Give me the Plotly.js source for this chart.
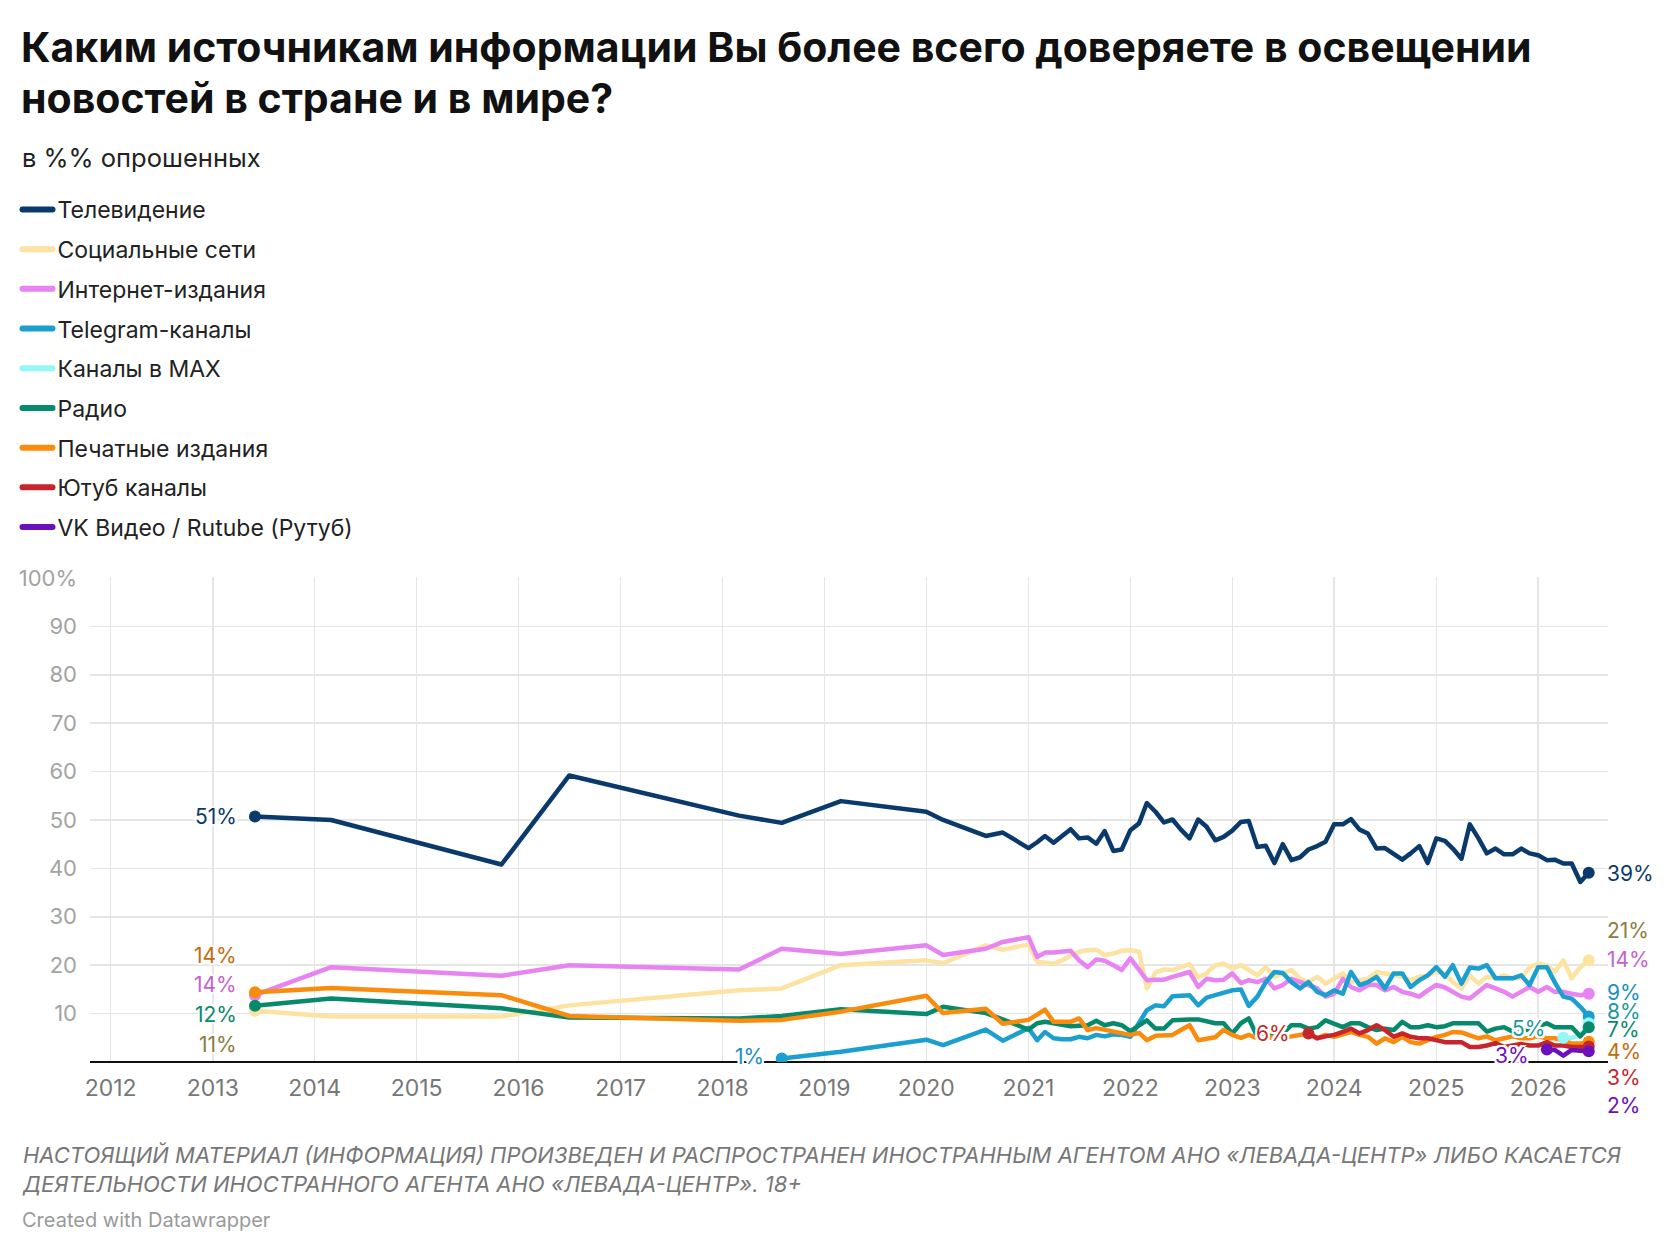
<!DOCTYPE html>
<html>
<head>
<meta charset="utf-8">
<script src="https://cdn.plot.ly/plotly-3.0.1.min.js"></script>
<style>
    html, body { margin: 0; padding: 0; background: #fff; }
    #chart { width: 1672px; height: 1256px; }
    .scatterlayer .js-line { stroke-linejoin: round; stroke-linecap: round; }
    .legendlines path { stroke-width: 6px !important; stroke-linecap: round; }
</style>
</head>
<body>
<div id="chart"></div>
<script>
// Survey dates. Every series ends at the last survey, so a shorter series
// lines up with the tail of this list.
const surveyDates = [
    '2013-06', '2014-03', '2015-11', '2016-07', '2018-03', '2018-08',
    '2019-03', '2020-01', '2020-03', '2020-08', '2020-10',
    '2021-01', '2021-02', '2021-03', '2021-04', '2021-05', '2021-06',
    '2021-07', '2021-08', '2021-09', '2021-10', '2021-11', '2021-12',
    '2022-01', '2022-02', '2022-03', '2022-04', '2022-05', '2022-06',
    '2022-07', '2022-08', '2022-09', '2022-10', '2022-11', '2022-12',
    '2023-01', '2023-02', '2023-03', '2023-04', '2023-05', '2023-06',
    '2023-07', '2023-08', '2023-09', '2023-10', '2023-11', '2023-12',
    '2024-01', '2024-02', '2024-03', '2024-04', '2024-05', '2024-06',
    '2024-07', '2024-08', '2024-09', '2024-10', '2024-11', '2024-12',
    '2025-01', '2025-02', '2025-03', '2025-04', '2025-05', '2025-06',
    '2025-07', '2025-08', '2025-09', '2025-10', '2025-11', '2025-12',
    '2026-01', '2026-02', '2026-03', '2026-04', '2026-05', '2026-06',
    '2026-07'
];

// % of respondents
const television = [
    50.7, 50.0, 40.8, 59.2, 50.9, 49.4, 53.9, 51.7, 50.0, 46.7, 47.4,
    44.2, 45.4, 46.7, 45.3, 46.7, 48.1, 46.2, 46.4, 45.1, 47.7, 43.6, 43.9,
    47.9, 49.3, 53.5, 51.7, 49.5, 50.1, 48.0, 46.2, 50.1, 48.6, 45.8, 46.5,
    47.8, 49.6, 49.8, 44.4, 44.7, 41.1, 45.0, 41.7, 42.3, 43.9, 44.6, 45.5,
    49.1, 49.1, 50.2, 48.0, 47.2, 44.1, 44.2, 43.1, 41.8, 43.1, 44.6, 41.1,
    46.2, 45.7, 44.1, 42.0, 49.1, 46.2, 43.1, 44.1, 42.9, 42.9, 44.1, 43.1,
    42.7, 41.7, 41.8, 41.0, 41.0, 37.2, 39.1
];
const socialNetworks = [
    10.6, 9.4, 9.4, 11.7, 14.8, 15.2, 20.0, 21.0, 20.4, 24.1, 23.2,
    24.3, 20.7, 20.5, 20.3, 21.0, 22.0, 22.8, 23.1, 23.2, 22.1, 22.4, 23.0,
    23.1, 22.8, 15.2, 18.5, 19.1, 19.0, 19.5, 20.2, 17.5, 18.3, 20.0, 20.3,
    19.3, 20.0, 19.0, 17.9, 19.6, 17.6, 18.3, 19.0, 17.2, 16.5, 17.6, 16.2,
    17.2, 18.3, 16.5, 16.9, 17.2, 18.6, 18.3, 18.0, 17.6, 16.9, 17.6, 17.9,
    18.6, 18.3, 16.5, 15.2, 17.9, 16.2, 17.6, 17.3, 17.9, 17.3, 17.3, 19.6,
    20.3, 20.0, 18.6, 21.0, 17.3, 19.6, 21.0
];
const internetMedia = [
    13.8, 19.6, 17.8, 20.0, 19.1, 23.4, 22.3, 24.1, 22.1, 23.4, 24.8,
    25.8, 21.7, 22.6, 22.6, 22.8, 23.0, 21.0, 19.6, 21.2, 20.9, 20.0, 19.0,
    21.4, 19.1, 16.9, 17.0, 17.0, 17.6, 18.1, 18.6, 15.5, 17.2, 16.9, 17.0,
    18.3, 16.3, 16.9, 16.5, 17.2, 15.2, 15.9, 17.2, 16.5, 15.9, 15.2, 13.5,
    14.1, 17.2, 15.5, 14.8, 15.9, 15.9, 14.8, 15.5, 14.5, 14.1, 13.5, 14.8,
    15.9, 15.4, 14.5, 13.5, 13.1, 14.5, 15.9, 15.2, 14.5, 13.5, 14.5, 15.5,
    14.5, 15.5, 14.5, 14.5, 14.1, 13.8, 14.1
];
const telegram = [
    0.7, 2.1, 4.6, 3.5, 6.7, 4.4,
    7.0, 4.5, 6.2, 4.9, 4.7, 4.7, 5.2, 4.9, 5.6, 5.3, 5.7, 5.6,
    5.2, 8.0, 10.7, 11.7, 11.5, 13.6, 13.8, 13.8, 11.7, 13.3, 13.8, 14.3,
    14.8, 15.0, 11.6, 13.5, 16.5, 18.6, 18.4, 16.5, 15.2, 16.5, 14.5, 13.8,
    14.8, 14.1, 18.6, 15.9, 16.5, 17.6, 15.2, 18.3, 18.3, 15.5, 16.9, 17.9,
    19.6, 17.6, 20.0, 16.2, 19.5, 19.3, 20.0, 17.3, 17.3, 17.3, 17.9, 15.9,
    19.6, 19.6, 16.5, 13.5, 13.1, 11.4, 9.4
];
const maxChannels = [5.0, 5.0, 5.5, 8.0];
const radio = [
    11.6, 13.1, 11.1, 9.2, 9.0, 9.5, 10.9, 9.9, 11.4, 10.1, 8.8,
    6.7, 8.0, 8.3, 8.0, 7.6, 7.4, 7.5, 7.6, 8.5, 7.6, 8.0, 7.6,
    6.4, 7.6, 8.6, 6.9, 6.9, 8.6, 8.8, 8.8, 8.8, 8.5, 8.0, 8.0,
    5.9, 8.0, 9.0, 5.2, 6.0, 5.5, 5.9, 7.6, 7.6, 6.9, 7.2, 8.6,
    8.0, 7.2, 8.0, 8.0, 7.2, 6.6, 6.9, 6.6, 8.3, 7.2, 7.2, 7.6,
    7.2, 7.4, 8.0, 8.0, 8.0, 8.0, 6.3, 6.9, 7.2, 6.3, 6.3, 6.9,
    7.6, 8.0, 7.2, 7.2, 7.2, 5.3, 7.2
];
const printMedia = [
    14.4, 15.3, 13.8, 9.5, 8.5, 8.7, 10.4, 13.7, 10.1, 11.0, 7.9,
    8.7, 9.8, 10.8, 8.3, 8.3, 8.3, 9.0, 6.6, 7.0, 6.6, 6.2, 5.9,
    5.6, 6.0, 4.5, 5.4, 5.6, 5.6, 6.6, 7.6, 4.5, 4.9, 5.1, 6.6,
    5.6, 5.0, 5.6, 4.9, 4.9, 5.2, 4.9, 5.3, 5.6, 5.9, 4.9, 5.6,
    5.2, 5.6, 6.2, 5.6, 5.2, 3.8, 4.9, 4.1, 5.2, 4.1, 3.8, 4.5,
    5.2, 5.6, 6.2, 6.1, 5.4, 4.9, 5.3, 4.5, 4.9, 5.3, 4.9, 4.9,
    5.3, 4.9, 4.9, 4.5, 3.8, 3.8, 4.2
];
const youtube = [
    5.9, 4.9, 5.3,
    5.6, 6.2, 6.9, 5.9, 6.6, 7.6, 6.6, 5.2, 5.9, 5.2, 4.9, 4.9,
    4.5, 4.1, 4.1, 4.1, 3.1, 3.1, 3.4, 3.9, 3.1, 3.4, 3.7, 3.4,
    3.4, 4.1, 3.4, 3.4, 3.1, 3.1, 3.2
];
const vkRutube = [2.6, 2.5, 1.3, 2.5, 2.3, 2.2];

const seriesNames = [
    'Телевидение', 'Социальные сети', 'Интернет-издания', 'Telegram-каналы',
    'Каналы в MAX', 'Радио', 'Печатные издания', 'Ютуб каналы',
    'VK Видео / Rutube (Рутуб)'
];
const seriesValues = [
    television, socialNetworks, internetMedia, telegram,
    maxChannels, radio, printMedia, youtube, vkRutube
];

const yTicks = [10, 20, 30, 40, 50, 60, 70, 80, 90, 100];
const yTickText = ['10', '20', '30', '40', '50', '60', '70', '80', '90', '100%'];

(function () {
    'use strict';

    const FONT = 'Inter, Roboto, "Noto Sans", sans-serif';
    const W = 1672, H = 1256;
    const M = { l: 90, r: 64, t: 577, b: 194, autoexpand: false };
    const Y_MAX = 100.2;

    const LINE_COLORS = ['#0a3a6b', '#fde3a1', '#e784f1', '#1b9fcf', '#95f6f6',
                         '#078a6c', '#f98c0d', '#c6262b', '#6c10be'];
    const LABEL_COLORS = ['#0a3a6b', '#8d7c40', '#c463d0', '#1b8fbf', '#21999b',
                          '#0a8a6c', '#c46b0b', '#c6262b', '#6c10be'];

    // where the start / end value labels sit (in y units), moved apart so they don't collide
    const START_LABEL_Y = [50.7, 3.7, 16.0, 1.1, 6.9, 9.8, 22.1, 5.9, 1.4];
    const END_LABEL_Y = [38.9, 27.2, 21.2, 14.3, 10.4, 6.7, 2.1, -3.1, -8.9];

    const HALO = '2px 0 0 #fff, -2px 0 0 #fff, 0 2px 0 #fff, 0 -2px 0 #fff, ' +
                 '2px 2px 0 #fff, -2px -2px 0 #fff, 2px -2px 0 #fff, -2px 2px 0 #fff';

    // container pixels -> paper coordinates
    function px(X) { return (X - M.l) / (W - M.l - M.r); }
    function py(Y) { return (H - M.b - Y) / (H - M.t - M.b); }

    function datesFor(values) {
        return surveyDates.slice(surveyDates.length - values.length);
    }

    const lineTraces = [];
    const dotTraces = [];
    const annotations = [];

    seriesValues.forEach(function (values, i) {
        const x = datesFor(values);
        const last = values.length - 1;

        lineTraces.push({
            type: 'scatter',
            mode: 'lines',
            name: seriesNames[i],
            legendgroup: 'g' + i,
            x: x,
            y: values,
            line: { color: LINE_COLORS[i], width: 4.5 },
            hoverinfo: 'skip'
        });

        dotTraces.push({
            type: 'scatter',
            mode: 'markers',
            legendgroup: 'g' + i,
            showlegend: false,
            x: [x[0], x[last]],
            y: [values[0], values[last]],
            marker: { color: LINE_COLORS[i], size: 12 },
            hoverinfo: 'skip'
        });

        const labelFont = { family: FONT, size: 21, color: LABEL_COLORS[i], shadow: HALO };
        annotations.push({
            xref: 'x', yref: 'paper', x: x[0], y: START_LABEL_Y[i] / Y_MAX,
            text: Math.round(values[0]) + '%',
            showarrow: false, xanchor: 'right', yanchor: 'middle', xshift: -16,
            font: labelFont
        });
        annotations.push({
            xref: 'x', yref: 'paper', x: x[last], y: END_LABEL_Y[i] / Y_MAX,
            text: Math.round(values[last]) + '%',
            showarrow: false, xanchor: 'left', yanchor: 'middle', xshift: 16,
            font: labelFont
        });
    });

    annotations.push(
        {
            xref: 'paper', yref: 'paper', x: px(19), y: py(47),
            xanchor: 'left', yanchor: 'middle', showarrow: false,
            text: 'Каким источникам информации Вы более всего доверяете в освещении',
            font: { family: FONT, size: 41, weight: 700, color: '#111' }
        },
        {
            xref: 'paper', yref: 'paper', x: px(19), y: py(98),
            xanchor: 'left', yanchor: 'middle', showarrow: false,
            text: 'новостей в стране и в мире?',
            font: { family: FONT, size: 41, weight: 700, color: '#111' }
        },
        {
            xref: 'paper', yref: 'paper', x: px(20), y: py(157),
            xanchor: 'left', yanchor: 'middle', showarrow: false,
            text: 'в %% опрошенных',
            font: { family: FONT, size: 25.5, color: '#222' }
        },
        {
            xref: 'paper', yref: 'paper', x: px(20), y: py(1169),
            xanchor: 'left', yanchor: 'middle', align: 'left', showarrow: false,
            text: 'НАСТОЯЩИЙ МАТЕРИАЛ (ИНФОРМАЦИЯ) ПРОИЗВЕДЕН И РАСПРОСТРАНЕН ИНОСТРАННЫМ АГЕНТОМ АНО «ЛЕВАДА-ЦЕНТР» ЛИБО КАСАЕТСЯ<br>' +
                  'ДЕЯТЕЛЬНОСТИ ИНОСТРАННОГО АГЕНТА АНО «ЛЕВАДА-ЦЕНТР». 18+',
            font: { family: FONT, size: 22, color: '#777', style: 'italic' }
        },
        {
            xref: 'paper', yref: 'paper', x: px(20), y: py(1220),
            xanchor: 'left', yanchor: 'middle', showarrow: false,
            text: 'Created with Datawrapper',
            font: { family: FONT, size: 20, color: '#9a9a9a' }
        }
    );

    const layout = {
        width: W,
        height: H,
        margin: M,
        paper_bgcolor: '#fff',
        plot_bgcolor: '#fff',
        font: { family: FONT, color: '#222' },
        showlegend: true,
        legend: {
            orientation: 'v',
            xref: 'container', yref: 'container',
            x: 17.5 / W, xanchor: 'left',
            y: 1 - 188 / H, yanchor: 'top',
            font: { family: FONT, size: 23, color: '#222' },
            tracegroupgap: 6.8,
            bgcolor: 'rgba(0,0,0,0)',
            itemclick: false,
            itemdoubleclick: false
        },
        xaxis: {
            type: 'date',
            range: ['2011-10-19', '2026-09-08'],
            tick0: '2012-01-01',
            dtick: 'M12',
            tickformat: '%Y',
            showgrid: true,
            gridcolor: '#e5e5e5',
            gridwidth: 1.5,
            zeroline: false,
            showline: false,
            ticks: '',
            ticklabelstandoff: 10,
            tickfont: { family: FONT, size: 23, color: '#777' },
            fixedrange: true
        },
        yaxis: {
            range: [0, Y_MAX],
            tickvals: yTicks,
            ticktext: yTickText,
            showgrid: true,
            gridcolor: '#e5e5e5',
            gridwidth: 1.5,
            zeroline: true,
            zerolinecolor: '#111',
            zerolinewidth: 2,
            showline: false,
            ticks: '',
            ticklabelstandoff: 12,
            tickfont: { family: FONT, size: 22, color: '#a3a3a3' },
            fixedrange: true
        },
        annotations: annotations
    };

    Plotly.newPlot('chart', lineTraces.concat(dotTraces), layout, {
        displayModeBar: false,
        staticPlot: true
    });
})();
</script>
</body>
</html>
